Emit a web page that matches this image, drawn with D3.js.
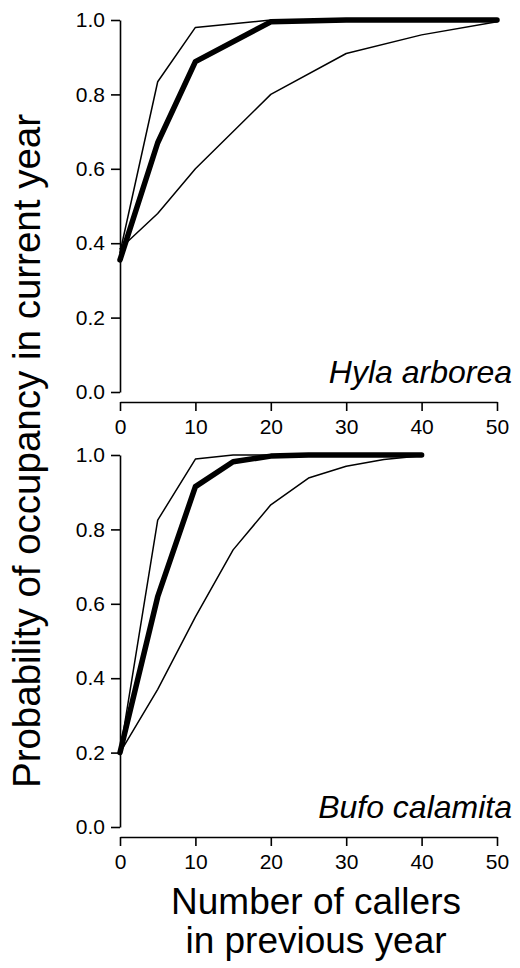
<!DOCTYPE html>
<html>
<head>
<meta charset="utf-8">
<script src="https://cdn.jsdelivr.net/npm/d3@7"></script>
<style>
  body { margin: 0; background: #fff; }
  text { font-family: "Liberation Sans", Arial, sans-serif; fill: #000; }
</style>
</head>
<body>
<div id="chart"></div>
<script>
// Hyla arborea (top panel)
const hylaCallers = [0, 5, 10, 20, 30, 40, 50];
const hylaMean  = [0.355, 0.67, 0.888, 0.995, 1.0, 1.0, 1.0];
const hylaUpper = [0.375, 0.834, 0.98, 1.0, 1.0, 1.0, 1.0];
const hylaLower = [0.385, 0.48, 0.60, 0.80, 0.91, 0.96, 0.995];

// Bufo calamita (bottom panel)
const bufoCallers = [0, 5, 10, 15, 20, 25, 30, 35, 40];
const bufoMean  = [0.2, 0.619, 0.915, 0.982, 0.997, 1.0, 1.0, 1.0, 1.0];
const bufoUpper = [0.2, 0.825, 0.989, 1.0, 1.0, 1.0, 1.0, 1.0, 1.0];
const bufoLower = [0.2, 0.37, 0.565, 0.745, 0.866, 0.938, 0.97, 0.988, 0.998];

const xTicks = [0, 10, 20, 30, 40, 50];
const yTicks = [0, 0.2, 0.4, 0.6, 0.8, 1.0];

const width = 520;
const height = 968;

const svg = d3.select("#chart")
  .append("svg")
  .attr("width", width)
  .attr("height", height);

const x = d3.scaleLinear().domain([0, 50]).range([120, 497]);

const panels = [
  { name: "Hyla arborea", xs: hylaCallers, series: [hylaUpper, hylaLower, hylaMean], top: 20, bottom: 392 },
  { name: "Bufo calamita", xs: bufoCallers, series: [bufoUpper, bufoLower, bufoMean], top: 455, bottom: 827 }
];

panels.forEach(p => {
  const y = d3.scaleLinear().domain([0, 1]).range([p.bottom, p.top]);

  // y axis
  const ya = svg.append("g")
    .attr("transform", `translate(${x(0)},0)`)
    .call(d3.axisLeft(y).tickValues(yTicks).tickFormat(d3.format(".1f")).tickSize(9).tickSizeOuter(0).tickPadding(6));
  // x axis, offset below the plot like base R
  const xa = svg.append("g")
    .attr("transform", `translate(0,${p.bottom + 10})`)
    .call(d3.axisBottom(x).tickValues(xTicks).tickSize(9).tickSizeOuter(0).tickPadding(8));

  [ya, xa].forEach(a => {
    a.select(".domain").attr("stroke", "#000").attr("stroke-width", 1.6);
    a.selectAll(".tick line").attr("stroke", "#000").attr("stroke-width", 1.6);
    a.selectAll(".tick text")
      .style("font-family", "'Liberation Sans', Arial, sans-serif")
      .style("font-size", "21px")
      .attr("fill", "#000");
  });

  const line = d3.line()
    .x((d, i) => x(p.xs[i]))
    .y(d => y(d));

  p.series.forEach((s, k) => {
    const thick = k === 2;
    svg.append("path")
      .datum(s)
      .attr("d", line)
      .attr("fill", "none")
      .attr("stroke", "#000")
      .attr("stroke-width", thick ? 5.5 : 1.5)
      .attr("stroke-linejoin", "round")
      .attr("stroke-linecap", "round");
  });

  svg.append("text")
    .attr("x", 512)
    .attr("y", p.bottom - 9)
    .attr("text-anchor", "end")
    .style("font-size", "32px")
    .style("font-style", "italic")
    .text(p.name);
});

// x axis title
const xt = svg.append("text")
  .attr("x", 316)
  .attr("text-anchor", "middle")
  .style("font-size", "37px");
xt.append("tspan").attr("x", 316).attr("y", 914).text("Number of callers");
xt.append("tspan").attr("x", 316).attr("y", 953).text("in previous year");

// y axis title
svg.append("text")
  .attr("transform", "translate(40,451) rotate(-90)")
  .attr("text-anchor", "middle")
  .style("font-size", "38.5px")
  .text("Probability of occupancy in current year");
</script>
</body>
</html>
